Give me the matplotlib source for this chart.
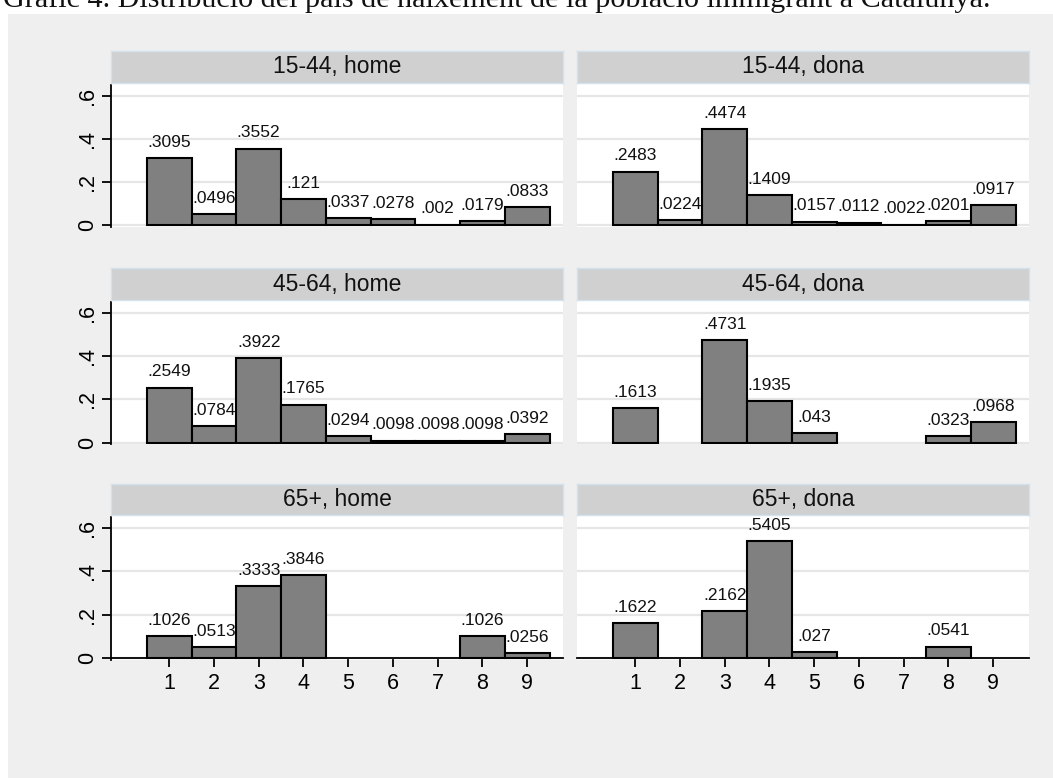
import matplotlib
matplotlib.use('Agg')
import matplotlib.pyplot as plt
from matplotlib.patches import Rectangle

# ---------------- data ----------------
categories = [1, 2, 3, 4, 5, 6, 7, 8, 9]
age_groups = ['15-44', '45-64', '65+']
sexes = ['home', 'dona']

v_1544_home = [.3095, .0496, .3552, .121, .0337, .0278, .002, .0179, .0833]
v_1544_dona = [.2483, .0224, .4474, .1409, .0157, .0112, .0022, .0201, .0917]
v_4564_home = [.2549, .0784, .3922, .1765, .0294, .0098, .0098, .0098, .0392]
v_4564_dona = [.1613, 0, .4731, .1935, .043, 0, 0, .0323, .0968]
v_65_home = [.1026, .0513, .3333, .3846, 0, 0, 0, .1026, .0256]
v_65_dona = [.1622, 0, .2162, .5405, .027, 0, 0, .0541, 0]

y_ticks = [0, .2, .4, .6]
y_tick_labels = ['0', '.2', '.4', '.6']
x_tick_labels = ['1', '2', '3', '4', '5', '6', '7', '8', '9']

title = "Gràfic 4. Distribució del país de naixement de la població immigrant a Catalunya."

panel_values = [[v_1544_home, v_1544_dona],
                [v_4564_home, v_4564_dona],
                [v_65_home, v_65_dona]]

# ---------------- layout ----------------
W, H = 1053, 778
fig = plt.figure(figsize=(W / 100, H / 100), dpi=100, facecolor='white')
SANS = ['Liberation Sans', 'DejaVu Sans']


def rect(x0, y0, x1, y1):
    return [x0 / W, 1 - y1 / H, (x1 - x0) / W, (y1 - y0) / H]


fig.patches.append(Rectangle((8 / W, 0), 1 - 8 / W, 1 - 14 / H,
                             transform=fig.transFigure, facecolor='#efefef',
                             edgecolor='none', zorder=-10))

# title at very top (partly clipped, as in the reference)
t = fig.text(3 / W, 1 - 7 / H, title, ha='left', va='baseline',
             family=['Liberation Serif', 'DejaVu Serif'], fontsize=20, color='#111111')
fig.canvas.draw()
bb = t.get_window_extent()
t.set_fontsize(20 * 990 / bb.width)

cols_x = [(111, 563), (577, 1029)]
rows = [(51, 83, 226.7), (268, 300, 444.4), (484, 515, 660)]

YMIN, YMAX = -0.008, 0.66


def fmt(v):
    return f"{v:.4f}".rstrip('0').lstrip('0')


for r, (st, sb, pb) in enumerate(rows):
    for c, (x0, x1) in enumerate(cols_x):
        vals = panel_values[r][c]
        ax = fig.add_axes(rect(x0, sb, x1, pb))
        ax.set_facecolor('white')
        ax.set_xlim(-0.3, 9.8)
        ax.set_ylim(YMIN, YMAX)
        ax.set_yticks(y_ticks)
        ax.yaxis.grid(True, color='#e6e6e6', lw=1.6)
        ax.set_axisbelow(True)

        xs = [x for x, v in zip(categories, vals) if v > 0]
        hs = [v for v in vals if v > 0]
        ax.bar(xs, hs, width=1.0, color='#808080', edgecolor='black',
               linewidth=1.5, zorder=3)
        for x, v in zip(xs, hs):
            ax.annotate(fmt(v), (x, v), xytext=(0, 8), textcoords='offset points',
                        ha='center', va='baseline', fontsize=12.5,
                        family=SANS, color='#111111', zorder=4)

        ax.spines['top'].set_visible(False)
        ax.spines['right'].set_visible(False)
        if c == 0:
            ax.spines['left'].set_color('black')
            ax.spines['left'].set_linewidth(1.3)
            ax.spines['left'].set_bounds(YMIN, 0.652)
            ax.set_yticklabels(y_tick_labels, family=SANS, fontsize=15.5)
            ax.tick_params(axis='y', length=6.5, width=1.3, pad=3,
                           labelrotation=90, colors='black')
            for lab in ax.get_yticklabels():
                lab.set_va('center')
        else:
            ax.spines['left'].set_visible(False)
            ax.tick_params(axis='y', left=False, labelleft=False)

        if r == 2:
            ax.spines['bottom'].set_position(('data', 0))
            ax.spines['bottom'].set_color('black')
            ax.spines['bottom'].set_linewidth(1.3)
            ax.spines['bottom'].set_zorder(5)
            ax.set_xticks(categories)
            ax.set_xticklabels(x_tick_labels, family=SANS, fontsize=15.5)
            ax.tick_params(axis='x', length=6.5, width=1.3, pad=4, colors='black')
        else:
            ax.spines['bottom'].set_visible(False)
            ax.tick_params(axis='x', bottom=False, labelbottom=False)

        # strip header
        sax = fig.add_axes(rect(x0, st, x1, sb))
        sax.set_facecolor('#d0d0d0')
        sax.set_xticks([])
        sax.set_yticks([])
        for s in sax.spines.values():
            s.set_color('#d3e2ec')
            s.set_linewidth(1.0)
        sax.text(0.5, 0.5, f"{age_groups[r]}, {sexes[c]}", transform=sax.transAxes,
                 ha='center', va='center', fontsize=16.5, family=SANS, color='#111111')

fig.savefig('out.png', dpi=100, facecolor='white')
